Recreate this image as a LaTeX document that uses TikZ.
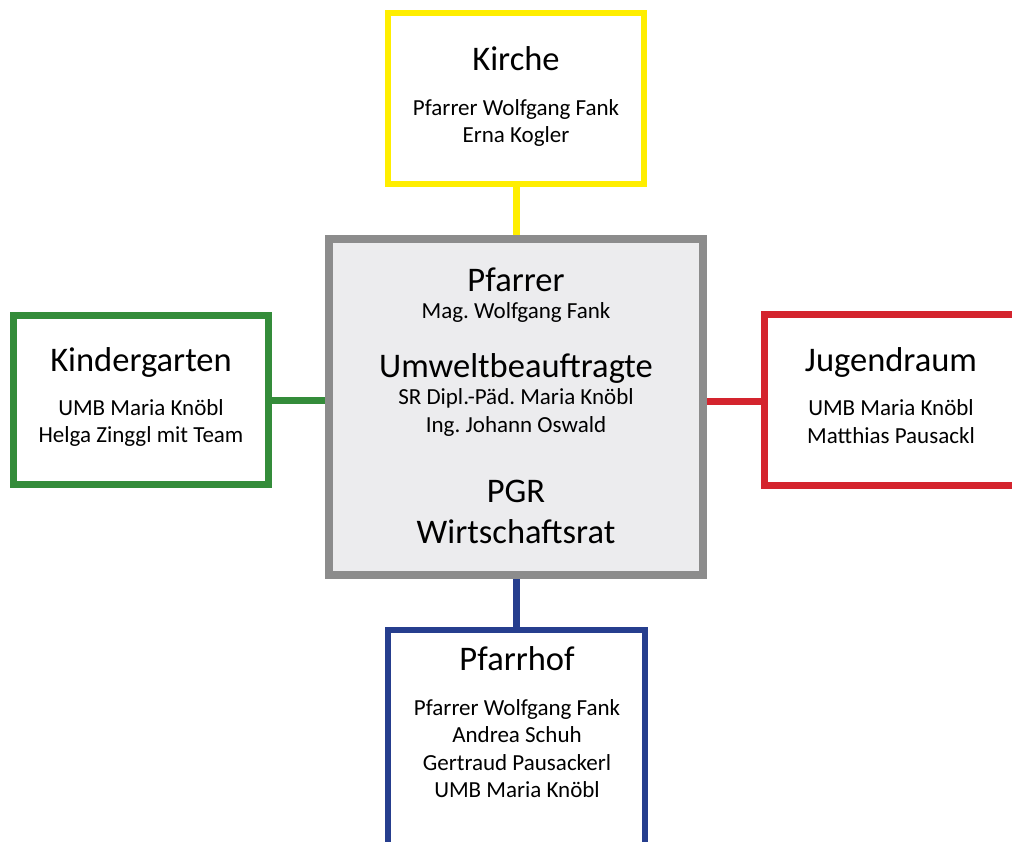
\documentclass[tikz,border=0pt]{standalone}
\usepackage{fontspec}
\setmainfont{Carlito}
\frenchspacing
\definecolor{cyel}{RGB}{255,238,0}
\definecolor{cgreen}{RGB}{52,140,58}
\definecolor{cred}{RGB}{212,36,46}
\definecolor{cblue}{RGB}{38,62,142}
\definecolor{cgrayline}{RGB}{140,140,140}
\definecolor{cgrayfill}{RGB}{236,236,238}
\tikzset{
  box/.style={fill=white, inner sep=0pt, rectangle},
  title/.style={anchor=base, inner sep=0pt, font=\fontsize{34.5}{40}\selectfont},
  sub/.style={anchor=base, inner sep=0pt, font=\fontsize{23}{27}\selectfont},
  link/.style={line width=7pt},
}
\begin{document}
\frenchspacing
\begin{tikzpicture}[x=1pt,y=-1pt]
\useasboundingbox (0,0) rectangle (1012,841);
\clip (0,0) rectangle (1012,841);
% boxes
\node[box, draw=cyel, line width=6pt, outer sep=3pt, minimum width=256pt, minimum height=171pt] (kirche) at (516,98.5) {};
\node[box, draw=cgrayline, fill=cgrayfill, line width=8pt, outer sep=4pt, minimum width=374pt, minimum height=336pt] (center) at (516,407) {};
\node[box, draw=cgreen, line width=7pt, outer sep=3.5pt, minimum width=255pt, minimum height=169pt] (kinder) at (141,400) {};
\node[box, draw=cred, line width=7pt, outer sep=3.5pt, minimum width=255pt, minimum height=171pt] (jugend) at (892,399.5) {};
\node[box, draw=cblue, line width=6.5pt, outer sep=3.25pt, minimum width=257pt, minimum height=230pt] (hof) at (516.5,745) {};
% connectors
\draw[link, cyel] (kirche.south) -- (kirche.south |- center.north);
\draw[link, cgreen] (kinder.east) -- (kinder.east -| center.west);
\draw[link, cred] ([yshift=-1.5pt]jugend.west) -- ([yshift=-1.5pt]jugend.west -| center.east);
\draw[link, cblue] (hof.north) -- (hof.north |- center.south);
% Kirche
\node[title] (t1) at (516,70) {Kirche};
\node[sub] (t2) at (516,115) {Pfarrer Wolfgang Fank};
\node[sub] (t3) at (516,142) {Erna Kogler};
% center
\node[title] (c1) at (516,291) {Pfarrer};
\node[sub] (c2) at (516,318) {Mag. Wolfgang Fank};
\node[title] (c3) at (516,377) {Umweltbeauftragte};
\node[sub] (c4) at (516,404) {SR Dipl.-Päd. Maria Knöbl};
\node[sub] (c5) at (516,432) {Ing. Johann Oswald};
\node[title] (c6) at (516,502) {PGR};
\node[title] (c7) at (516,543) {Wirtschaftsrat};
% Kindergarten
\node[title] (k1) at (141,371) {Kindergarten};
\node[sub] (k2) at (141,415) {UMB Maria Knöbl};
\node[sub] (k3) at (141,442) {Helga Zinggl mit Team};
% Jugendraum
\node[title] (j1) at (891,371) {Jugendraum};
\node[sub] (j2) at (891,415) {UMB Maria Knöbl};
\node[sub] (j3) at (891,443) {Matthias Pausackl};
% Pfarrhof
\node[title] (h1) at (517,670) {Pfarrhof};
\node[sub] (h2) at (517,715) {Pfarrer Wolfgang Fank};
\node[sub] (h3) at (517,742) {Andrea Schuh};
\node[sub] (h4) at (517,770) {Gertraud Pausackerl};
\node[sub] (h5) at (517,797) {UMB Maria Knöbl};
\end{tikzpicture}
\end{document}
